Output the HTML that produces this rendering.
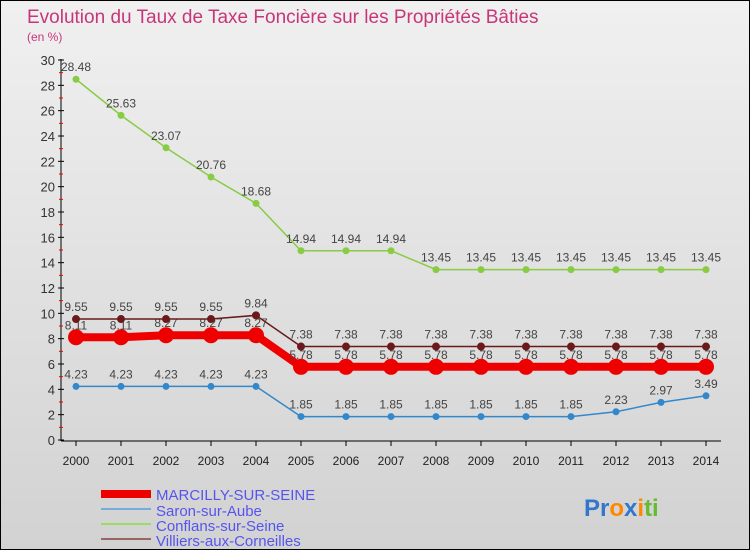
<!DOCTYPE html>
<html><head><meta charset="utf-8"><style>
body{margin:0;width:750px;height:550px;overflow:hidden;font-family:"Liberation Sans",sans-serif}
#c{position:relative;width:748px;height:548px;border:1px solid #000;background:linear-gradient(#f0f0f0,#d2d2d2)}
</style></head><body>
<div id="c">
<svg width="748" height="548" id="svg">
<text x="26" y="22" font-size="19" fill="#c8367a">Evolution du Taux de Taxe Foncière sur les Propriétés Bâties</text>
<text x="26" y="40" font-size="12" fill="#c8367a">(en %)</text>
<g id="axes"></g><g id="series"></g>
<g>
<rect x="100" y="489" width="50" height="8" fill="#e00"/>
<text x="155" y="499" font-size="15" fill="#5555ee">MARCILLY-SUR-SEINE</text>
<rect x="100" y="507" width="50" height="2" fill="#77aadd"/>
<text x="155" y="515" font-size="15" fill="#5555ee">Saron-sur-Aube</text>
<rect x="100" y="522" width="50" height="2" fill="#99dd66"/>
<text x="155" y="530" font-size="15" fill="#5555ee">Conflans-sur-Seine</text>
<rect x="100" y="537" width="50" height="2" fill="#996666"/>
<text x="155" y="545" font-size="15" fill="#5555ee">Villiers-aux-Corneilles</text>
</g>
<text x="583" y="515" font-size="24" font-weight="bold"><tspan fill="#3377cc">Pr</tspan><tspan fill="#ff8800">o</tspan><tspan fill="#3377cc">x</tspan><tspan fill="#ff8800">i</tspan><tspan fill="#66bb33">ti</tspan></text>
</svg></div>
<script>
const years=[2000,2001,2002,2003,2004,2005,2006,2007,2008,2009,2010,2011,2012,2013,2014];
const marcilly=[8.11,8.11,8.27,8.27,8.27,5.78,5.78,5.78,5.78,5.78,5.78,5.78,5.78,5.78,5.78];
const saron=[4.23,4.23,4.23,4.23,4.23,1.85,1.85,1.85,1.85,1.85,1.85,1.85,2.23,2.97,3.49];
const conflans=[28.48,25.63,23.07,20.76,18.68,14.94,14.94,14.94,13.45,13.45,13.45,13.45,13.45,13.45,13.45];
const villiers=[9.55,9.55,9.55,9.55,9.84,7.38,7.38,7.38,7.38,7.38,7.38,7.38,7.38,7.38,7.38];
const yTicks=[0,2,4,6,8,10,12,14,16,18,20,22,24,26,28,30];
const NS="http://www.w3.org/2000/svg";
const xs=i=>75+i*45, ys=v=>439-v*12.667;
function mk(t,a,p,name){const e=document.createElementNS(NS,t);for(const k in a)e.setAttribute(k,a[k]);


p.appendChild(e);return e;}
const ax=document.getElementById('axes');
mk('line',{x1:60,y1:58,x2:60,y2:440,stroke:'#000'},ax,'y-axis');
mk('line',{x1:60,y1:440,x2:720,y2:440,stroke:'#000'},ax,'x-axis');
yTicks.forEach(v=>{const y=ys(v);
mk('line',{x1:57,y1:y,x2:63,y2:y,stroke:'#000'},ax,'y-tick');
if(v<30)mk('line',{x1:58,y1:ys(v+1),x2:62,y2:ys(v+1),stroke:'#e00'},ax,'y-minor-tick');
const t=mk('text',{x:54,y:y+5,'text-anchor':'end','font-size':13,fill:'#333'},ax,'y-tick-label');t.textContent=v;});
years.forEach((yr,i)=>{const x=xs(i);
mk('line',{x1:x,y1:440,x2:x,y2:445,stroke:'#000'},ax,'x-tick');
const t=mk('text',{x:x,y:464,'text-anchor':'middle','font-size':12,fill:'#222'},ax,'x-tick-label');t.textContent=yr;});
const sg=document.getElementById('series');
function series(d,col,w,r,name){
mk('polyline',{points:d.map((v,i)=>xs(i)+','+ys(v)).join(' '),fill:'none',stroke:col,'stroke-width':w},sg,name+'-line');
d.forEach((v,i)=>{mk('circle',{cx:xs(i),cy:ys(v),r:r,fill:col},sg,name+'-point');
const t=mk('text',{x:xs(i),y:ys(v)-8,'text-anchor':'middle','font-size':12,fill:'#444'},sg,name+'-value-label');t.textContent=v;});}
series(saron,'#3388cc',1.5,3.5,'saron');
series(conflans,'#88cc44',1.5,3.5,'conflans');
series(marcilly,'#ee0000',8,8,'marcilly');
series(villiers,'#6a1a1a',1.5,4,'villiers');
</script>
</body></html>
